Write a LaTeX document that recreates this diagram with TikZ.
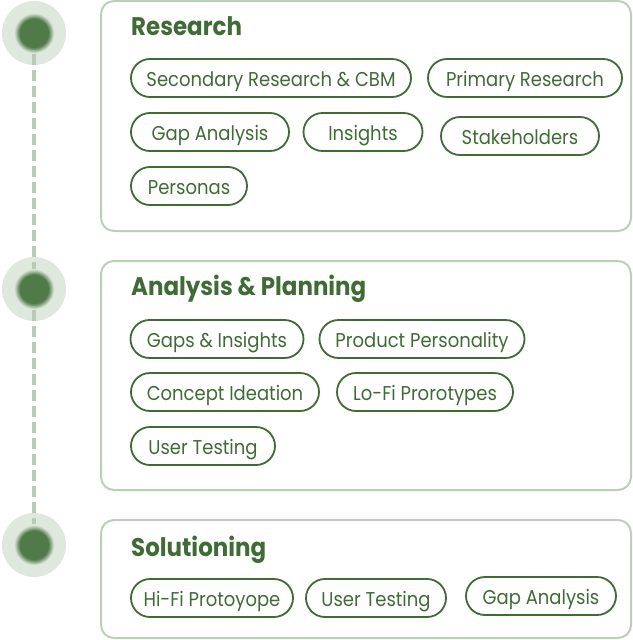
\documentclass[tikz,border=0pt]{standalone}
\usepackage{fontspec}
\setmainfont{Poppins}[FakeStretch=0.9]
\usetikzlibrary{shapes.misc}
\definecolor{leaf}{HTML}{3F6B35}
\definecolor{boxline}{HTML}{BCCFB8}
\definecolor{halo}{HTML}{DFE8DC}
\definecolor{core}{HTML}{507B48}
\definecolor{rail}{HTML}{B8CBB3}
\pgfdeclareradialshading{coreshade}{\pgfpoint{0bp}{0bp}}{color(0bp)=(core); color(18bp)=(core); color(25bp)=(halo); color(50bp)=(halo)}
\begin{document}
\begin{tikzpicture}[x=1pt, y=-1pt,
      box/.style={draw=boxline, line width=2pt, rounded corners=13pt},
      heading/.style={anchor=base west, inner sep=0pt, text=leaf, font=\fontsize{25.5}{30}\selectfont\bfseries},
      pill/.style={rounded rectangle, draw=leaf, line width=1.8pt, text=leaf, minimum height=38pt, inner sep=0pt,
        text height=17.4pt, text depth=0pt, font=\fontsize{20}{24}\selectfont},
      halonode/.style={circle, fill=halo, minimum size=64pt, inner sep=0pt},
      corenode/.style={circle, shading=coreshade, minimum size=40pt, inner sep=0pt},
      rail/.style={draw=rail, line width=3.5pt, dash pattern=on 11pt off 5pt, dash phase=11pt}]
    \useasboundingbox (0,0) rectangle (632,640);
    % timeline
    \node[halonode] (h1) at (34,33) {};
    \node[halonode] (h2) at (34,289) {};
    \node[halonode] (h3) at (34,545) {};
    \coordinate (railend) at (34,524);
    \draw[rail] (h1.center) -- (railend);
    \node[corenode] (d1) at (h1) {};
    \node[corenode] (d2) at (h2) {};
    \node[corenode] (d3) at (h3) {};
    % research
    \draw[box] (101,1) rectangle (631,231);
    \node[heading] (t1) at (131,35) {Research};
    \node[pill, minimum width=280pt] (sr) at (271,78) {Secondary Research \& CBM};
    \node[pill, minimum width=194pt] (pr) at (525,78) {Primary Research};
    \node[pill, minimum width=158pt] (ga) at (210,132) {Gap Analysis};
    \node[pill, minimum width=119pt] (in) at (363,132) {Insights};
    \node[pill, minimum width=158pt] (sh) at (520,136) {Stakeholders};
    \node[pill, minimum width=116pt] (pe) at (189,186) {Personas};
    % analysis & planning
    \draw[box] (101,261) rectangle (631,490);
    \node[heading] (t2) at (131,295) {Analysis \& Planning};
    \node[pill, minimum width=173pt] (gi) at (217,339) {Gaps \& Insights};
    \node[pill, minimum width=205pt] (pp) at (422,339) {Product Personality};
    \node[pill, minimum width=188pt] (ci) at (225,392) {Concept Ideation};
    \node[pill, minimum width=176pt] (lf) at (425,392) {Lo-Fi Prorotypes};
    \node[pill, minimum width=144pt] (ut) at (203,446) {User Testing};
    % solutioning
    \draw[box] (101,520) rectangle (631,638);
    \node[heading] (t3) at (131,556) {Solutioning};
    \node[pill, minimum width=162pt] (hf) at (212,598) {Hi-Fi Protoyope};
    \node[pill, minimum width=140pt] (ut2) at (376,598) {User Testing};
    \node[pill, minimum width=150pt] (ga2) at (541,596) {Gap Analysis};
  \end{tikzpicture}
\end{document}
